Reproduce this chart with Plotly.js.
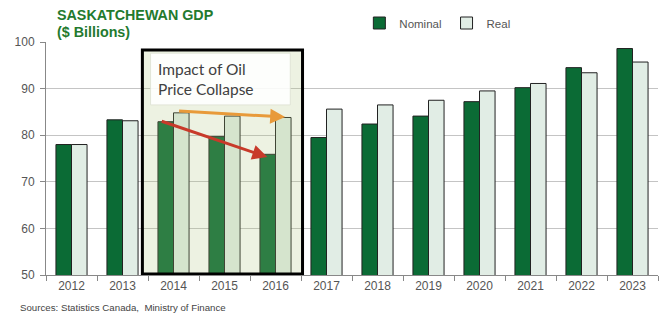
<!DOCTYPE html>
<html>
<head>
<meta charset="utf-8">
<script src="https://cdn.plot.ly/plotly-3.0.1.min.js"></script>
<style>html,body{margin:0;padding:0;background:#fff;}#chart{width:663px;height:314px;}</style>
</head>
<body>
<div id="chart"></div>
<script>
const years = ['2012','2013','2014','2015','2016','2017','2018','2019','2020','2021','2022','2023'];
const nominal = [78.0, 83.3, 82.9, 79.7, 75.9, 79.5, 82.4, 84.1, 87.2, 90.2, 94.5, 98.6];
const real = [78.0, 83.1, 84.8, 84.1, 83.8, 85.6, 86.5, 87.5, 89.5, 91.1, 93.4, 95.7];
const seriesNames = ['Nominal', 'Real'];
const titleLines = ['SASKATCHEWAN GDP', '($ Billions)'];
const boxText = ['Impact of Oil', 'Price Collapse'];
const sourceText = 'Sources: Statistics Canada,  Ministry of Finance';

const i2014 = years.indexOf('2014');
const i2016 = years.indexOf('2016');

const traces = [
  {type:'bar', name:seriesNames[0], x:years, y:nominal,
   marker:{color:'#0b6b35', line:{color:'#222', width:1}}},
  {type:'bar', name:seriesNames[1], x:years, y:real,
   marker:{color:'#e1ede5', line:{color:'#222', width:1}}}
];

const layout = {
  width:663, height:314,
  margin:{l:45.5, r:5, t:42, b:39},
  paper_bgcolor:'#fff', plot_bgcolor:'#fff',
  font:{family:'Liberation Sans, Arial, sans-serif', color:'#555', size:11.5},
  barmode:'group', bargap:0.39, bargroupgap:0,
  showlegend:true,
  legend:{orientation:'h', x:0.512, xanchor:'left', y:1+(42-23)/233, yanchor:'middle',
          font:{size:11.5, color:'#555'}, itemwidth:30, traceorder:'normal', bgcolor:'rgba(0,0,0,0)'},
  xaxis:{type:'category', range:[-0.5, 11.5], showline:true, linecolor:'#888', linewidth:1,
         ticks:'outside', tickson:'boundaries', ticklen:5, tickcolor:'#888',
         showgrid:false, tickfont:{size:12, color:'#555'}, fixedrange:true},
  yaxis:{range:[50,100], dtick:10, showline:true, linecolor:'#888', linewidth:1,
         ticks:'outside', ticklen:5, tickcolor:'#888', showgrid:true, gridcolor:'#c4c4c4',
         gridwidth:1, zeroline:false, tickfont:{size:12, color:'#555'}, ticklabelstandoff:3},
  shapes:[
    {type:'rect', xref:'x', yref:'y', x0:i2014-0.61, x1:i2016+0.53, y0:50.2, y1:98.3,
     fillcolor:'rgba(175,196,122,0.22)', line:{color:'#000', width:3}, layer:'above'},
    {type:'rect', xref:'x', yref:'y', x0:i2014-0.45, x1:i2016+0.29, y0:86.5, y1:97.6,
     fillcolor:'rgba(255,255,255,0.88)', line:{color:'rgba(220,225,210,0.8)', width:1}, layer:'above'}
  ],
  annotations:[
    {xref:'paper', yref:'paper', x:(55-45.5)/612.5, y:1+(42-15)/233, xanchor:'left', yanchor:'middle',
     text:'<b>'+titleLines[0]+'</b>', showarrow:false, font:{size:14.3, color:'#237a2e', family:'Liberation Sans, Arial, sans-serif'}},
    {xref:'paper', yref:'paper', x:(55-45.5)/612.5, y:1+(42-32)/233, xanchor:'left', yanchor:'middle',
     text:'<b>'+titleLines[1]+'</b>', showarrow:false, font:{size:14.3, color:'#237a2e', family:'Liberation Sans, Arial, sans-serif'}},
    {xref:'x', yref:'y', x:i2014-0.34, y:92.1, xanchor:'left', yanchor:'middle', align:'left',
     text:boxText[0]+'<br>'+boxText[1], showarrow:false,
     font:{size:15.5, color:'#404040', family:'Lato, Carlito, sans-serif'}},
    {xref:'paper', yref:'paper', x:(17-45.5)/612.5, y:-(307-275)/233, xanchor:'left', yanchor:'middle',
     text:sourceText, showarrow:false, font:{size:9.7, color:'#444', family:'Liberation Sans, Arial, sans-serif'}},
    {xref:'x', yref:'y', axref:'x', ayref:'y',
     x:i2016+0.19, y:real[i2016]+0.1, ax:i2014+0.08, ay:real[i2014]+0.4,
     showarrow:true, arrowhead:2, arrowsize:1, arrowwidth:3, arrowcolor:'#e89a3a', text:''},
    {xref:'x', yref:'y', axref:'x', ayref:'y',
     x:i2016-0.16, y:nominal[i2016]-0.6, ax:i2014-0.26, ay:nominal[i2014]+0.2,
     showarrow:true, arrowhead:2, arrowsize:1, arrowwidth:3, arrowcolor:'#c83a2a', text:''}
  ]
};

Plotly.newPlot('chart', traces, layout, {displayModeBar:false, staticPlot:true});
</script>
</body>
</html>
